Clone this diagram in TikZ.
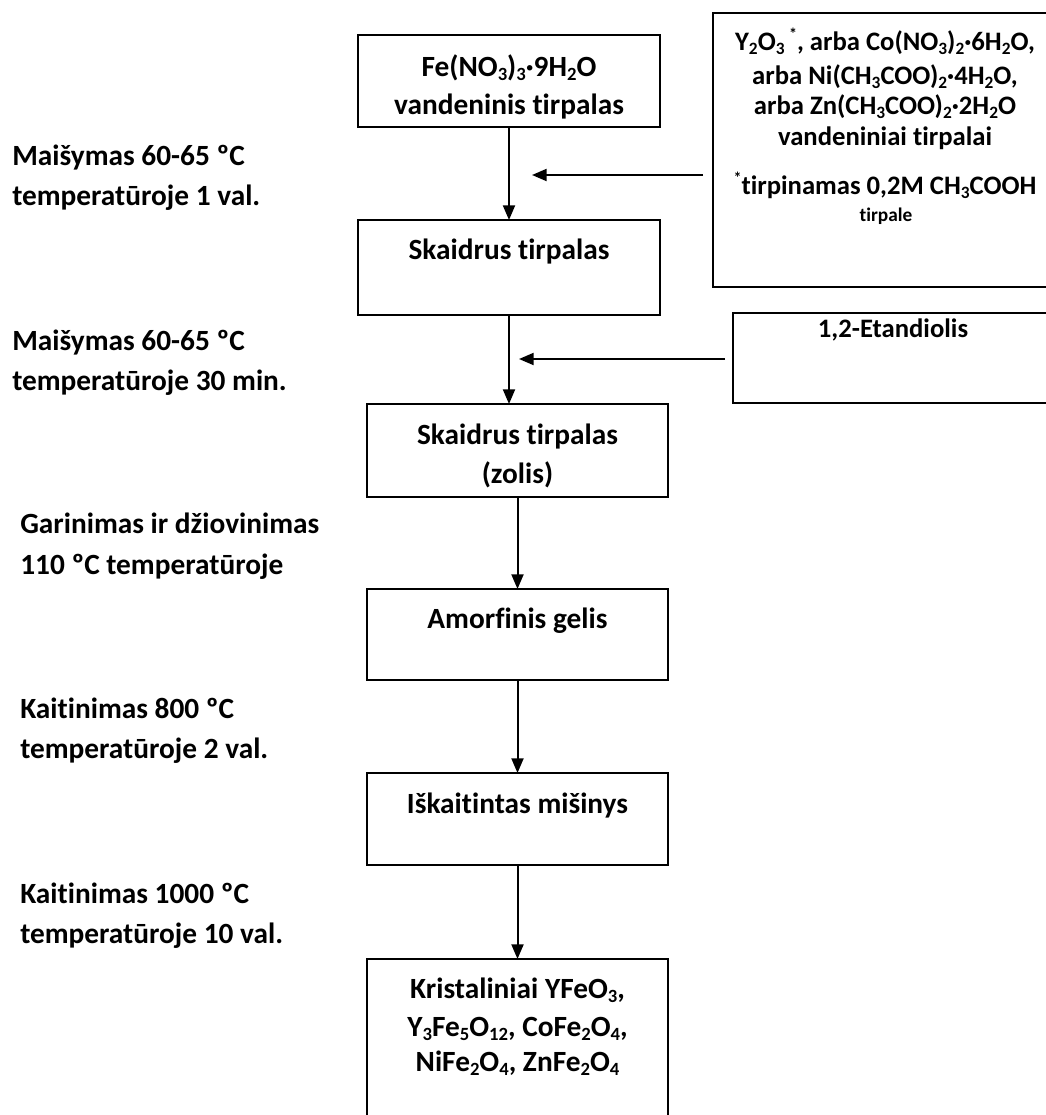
\documentclass[tikz,border=0pt]{standalone}
\usepackage{fontspec}
\setmainfont{Carlito}[Ligatures={NoCommon}]
\usetikzlibrary{arrows.meta,calc}
\newcommand{\chsub}[1]{\raisebox{-3.5pt}{\fontsize{14}{14}\selectfont #1}}
\newcommand{\chsup}[1]{\raisebox{9pt}{\fontsize{13}{13}\selectfont #1}}
\newcommand{\rsub}[1]{\raisebox{-3pt}{\fontsize{13}{13}\selectfont #1}}
\newcommand{\rsup}[1]{\raisebox{8pt}{\fontsize{12}{12}\selectfont #1}}
\begin{document}
\begin{tikzpicture}[x=0.75pt,y=-0.75pt,
  box/.style={draw,line width=1.5pt,inner sep=0pt,outer sep=0pt,rectangle},
  txt/.style={anchor=base,inner sep=0pt,font=\fontsize{22}{26}\selectfont\bfseries},
  rtxt/.style={anchor=base,inner sep=0pt,font=\fontsize{20}{24}\selectfont\bfseries},
  lab/.style={anchor=base west,inner sep=0pt,font=\fontsize{22}{26}\selectfont\bfseries},
  smalltxt/.style={anchor=base,inner sep=0pt,font=\fontsize{14.5}{18}\selectfont\bfseries},
  arr/.style={line width=1.5pt,-{Triangle[length=11pt,width=9pt]}}]
\useasboundingbox (0,0) rectangle (1046,1115);
\fill[white] (0,0) rectangle (1046,1115);
\clip (0,0) rectangle (1046,1115);

% main column boxes
\node[box,minimum width=226.5pt,minimum height=69pt] (b1) at (509,81) {};
\node[box,minimum width=226.5pt,minimum height=71.25pt] (b2) at (509,267.5) {};
\node[box,minimum width=225.75pt,minimum height=69.75pt] (b3) at (517.5,450.5) {};
\node[box,minimum width=225.75pt,minimum height=68.25pt] (b4) at (517.5,634.5) {};
\node[box,minimum width=225.75pt,minimum height=69pt] (b5) at (517.5,819) {};
\node[box,minimum width=225.75pt,minimum height=128.25pt] (b6) at (517.5,1044.5) {};
% side boxes
\node[box,minimum width=260.25pt,minimum height=205.5pt] (r1) at (886.5,150) {};
\node[box,minimum width=245.25pt,minimum height=67.5pt] (r2) at (896.5,358) {};

% box texts
\node[txt] (b1a) at (509,76) {Fe(NO\chsub{3})\chsub{3}·9H\chsub{2}O};
\node[txt] (b1b) at (509,114) {vandeninis tirpalas};
\node[txt] (b2a) at (509,259) {Skaidrus tirpalas};
\node[txt] (b3a) at (517.5,444) {Skaidrus tirpalas};
\node[txt] (b3b) at (517.5,483) {(zolis)};
\node[txt] (b4a) at (517.5,628) {Amorfinis gelis};
\node[txt] (b5a) at (517.5,813) {Iškaitintas mišinys};
\node[txt] (b6a) at (517.5,998) {Kristaliniai YFeO\chsub{3},};
\node[txt] (b6b) at (517.5,1036) {Y\chsub{3}Fe\chsub{5}O\chsub{12}, CoFe\chsub{2}O\chsub{4},};
\node[txt] (b6c) at (517.5,1071) {NiFe\chsub{2}O\chsub{4}, ZnFe\chsub{2}O\chsub{4}};

\node[rtxt] (r1a) at (885,50) {Y\rsub{2}O\rsub{3}\,\rsup{*}, arba Co(NO\rsub{3})\rsub{2}·6H\rsub{2}O,};
\node[rtxt] (r1b) at (885,84) {arba Ni(CH\rsub{3}COO)\rsub{2}·4H\rsub{2}O,};
\node[rtxt] (r1c) at (885,114) {arba Zn(CH\rsub{3}COO)\rsub{2}·2H\rsub{2}O};
\node[rtxt] (r1d) at (885,145) {vandeniniai tirpalai};
\node[rtxt] (r1e) at (885,194) {\rsup{*}tirpinamas 0,2M CH\rsub{3}COOH};
\node[smalltxt] (r1f) at (886,221) {tirpale};
\node[rtxt] (r2a) at (893,337) {1,2-Etandiolis};

% left labels
\node[lab] (l1a) at (12,165) {Maišymas 60-65 ºC};
\node[lab] (l1b) at (12,205) {temperatūroje 1 val.};
\node[lab] (l2a) at (12,350) {Maišymas 60-65 ºC};
\node[lab] (l2b) at (12,390) {temperatūroje 30 min.};
\node[lab] (l3a) at (20,533) {Garinimas ir džiovinimas};
\node[lab] (l3b) at (20,574) {110 ºC temperatūroje};
\node[lab] (l4a) at (20,718) {Kaitinimas 800 ºC};
\node[lab] (l4b) at (20,758) {temperatūroje 2 val.};
\node[lab] (l5a) at (20,903) {Kaitinimas 1000 ºC};
\node[lab] (l5b) at (20,943) {temperatūroje 10 val.};

% connectors
\draw[arr] (b1) -- (b2);
\draw[arr] (b2.south) -- (b2.south |- b3.north);
\draw[arr] (b3) -- (b4);
\draw[arr] (b4) -- (b5);
\draw[arr] (b5) -- (b6);
\coordinate (h1) at (532,175);
\coordinate (t1) at ($(r1.west |- h1)+(-10,0)$);
\draw[arr] (t1) -- (h1);
\coordinate (h2) at (519,359);
\coordinate (t2) at ($(r2.west |- h2)+(-8,0)$);
\draw[arr] (t2) -- (h2);
\end{tikzpicture}
\end{document}
